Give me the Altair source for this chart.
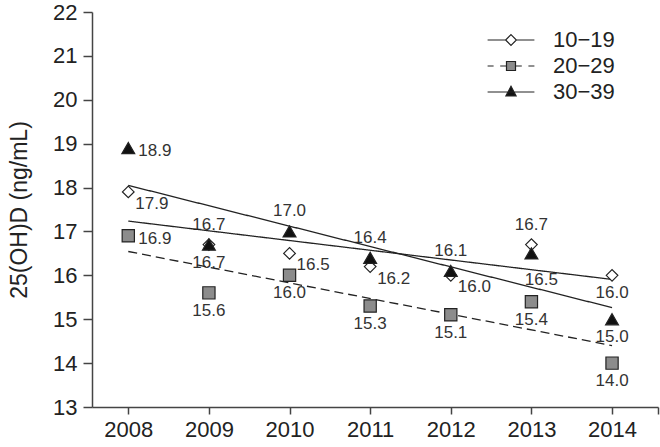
import altair as alt
import pandas as pd

# Survey years and age groups
YEARS = [2008, 2009, 2010, 2011, 2012, 2013, 2014]
GROUPS = ["10\u221219", "20\u221229", "30\u221239"]

# Mean serum 25(OH)D (ng/mL) per age group and year
VAL_10_19 = [17.9, 16.7, 16.5, 16.2, 16.0, 16.7, 16.0]
VAL_20_29 = [16.9, 15.6, 16.0, 15.3, 15.1, 15.4, 14.0]
VAL_30_39 = [18.9, 16.7, 17.0, 16.4, 16.1, 16.5, 15.0]

# Where each value label sits relative to its marker
PLACE_10_19 = ["below-right", "below", "below-right", "below-right", "below-right", "above", "below"]
PLACE_20_29 = ["right", "below", "below", "below", "below", "below", "below"]
PLACE_30_39 = ["right", "above", "above", "above", "above", "lower-right", "below"]

Y_TICKS = list(range(13, 23))

FONT = "Liberation Sans"
INK = "#222222"

rows = []
for grp, vals, places in zip(GROUPS,
                             [VAL_10_19, VAL_20_29, VAL_30_39],
                             [PLACE_10_19, PLACE_20_29, PLACE_30_39]):
    for yr, v, p in zip(YEARS, vals, places):
        rows.append({"year": yr, "group": grp, "value": v, "place": p,
                     "label": f"{v:.1f}"})
df = pd.DataFrame(rows)

x_domain = [2007.55, 2014.57]
x_enc = alt.X("year:Q",
              scale=alt.Scale(domain=x_domain, nice=False, zero=False),
              axis=alt.Axis(values=YEARS + [x_domain[1]],
                            labelExpr="datum.value > 2014.5 ? '' : datum.label",
                            format="d", title=None, grid=False,
                            tickSize=7, labelPadding=5, labelFontSize=22,
                            labelFont=FONT, labelColor=INK,
                            domainColor="#444", tickColor="#444",
                            domainWidth=1.5, tickWidth=1.5, labelFlush=False))
y_enc = alt.Y("value:Q",
              scale=alt.Scale(domain=[13, 22], nice=False, zero=False),
              axis=alt.Axis(values=Y_TICKS, title="25(OH)D (ng/mL)", grid=False,
                            tickSize=9, labelPadding=6, labelFontSize=22,
                            labelFont=FONT, labelColor=INK,
                            titleFont=FONT, titleFontSize=23,
                            titleFontWeight="normal", titleColor=INK,
                            titlePadding=21,
                            domainColor="#444", tickColor="#444",
                            domainWidth=1.5, tickWidth=1.5))

base = alt.Chart(df)

# value labels, one layer per placement
OFFSETS = {
    "above": (0, -20, "center"),
    "below": (0, 18, "center"),
    "right": (10, 3, "left"),
    "below-right": (7, 12, "left"),
    "lower-right": (10, 27, "center"),
}
text_layers = []
for key, (dx, dy, align) in OFFSETS.items():
    text_layers.append(
        base.transform_filter(alt.datum.place == key)
        .mark_text(dx=dx, dy=dy, align=align, baseline="middle",
                   font=FONT, fontSize=17, color="#333333")
        .encode(x=x_enc, y=y_enc, text="label:N")
    )

# linear trend per age group
trend = base.transform_regression(
    "year", "value", groupby=["group"]
).mark_line(color=INK, strokeWidth=1.3).encode(
    x=x_enc, y=y_enc,
    strokeDash=alt.StrokeDash("group:N",
                              scale=alt.Scale(domain=GROUPS,
                                              range=[[1, 0], [9, 5], [1, 0]]),
                              legend=None),
)

fill_colors = ["#ffffff", "#8c8c8c", "#111111"]

points = base.mark_point(filled=True, stroke=INK, strokeWidth=1.2, opacity=1).encode(
    x=x_enc, y=y_enc,
    shape=alt.Shape("group:N",
                    scale=alt.Scale(domain=GROUPS,
                                    range=["diamond", "square", "triangle-up"]),
                    legend=None),
    fill=alt.Fill("group:N",
                  scale=alt.Scale(domain=GROUPS, range=fill_colors),
                  legend=None),
    size=alt.Size("group:N",
                  scale=alt.Scale(domain=GROUPS, range=[135, 165, 190]),
                  legend=None),
)

# legend symbols: line (solid or dashed) with the group's marker on it
LEGEND_PATHS = [
    "M-3.9,0H-0.9M0.9,0H3.9M0,-0.9L0.9,0L0,0.9L-0.9,0Z",
    "M-3.9,0H-2.9M-1.8,0H-0.75M0.75,0H1.8M2.9,0H3.9"
    "M-0.75,-0.75H0.75V0.75H-0.75Z",
    "M-3.9,0H3.9M0,-0.95L0.85,0.65L-0.85,0.65Z",
]
legend_opts = dict(title=None, orient="none", legendX=408, legendY=17,
                   direction="vertical", labelFont=FONT, labelFontSize=22,
                   labelColor=INK, labelOffset=31, symbolSize=144,
                   symbolStrokeWidth=1.2, symbolOpacity=1, rowPadding=4)
legend_layer = base.mark_point(filled=True, strokeWidth=1.2,
                               opacity=0).encode(
    x=x_enc, y=y_enc,
    shape=alt.Shape("group:N",
                    scale=alt.Scale(domain=GROUPS, range=LEGEND_PATHS),
                    legend=alt.Legend(**legend_opts)),
    fill=alt.Fill("group:N",
                  scale=alt.Scale(domain=GROUPS, range=fill_colors),
                  legend=alt.Legend(**legend_opts)),
    stroke=alt.Stroke("group:N",
                      scale=alt.Scale(domain=GROUPS, range=[INK, INK, INK]),
                      legend=alt.Legend(**legend_opts)),
)

chart = alt.layer(
    *text_layers, trend, points, legend_layer
).resolve_scale(
    shape="independent", fill="independent", stroke="independent"
).properties(
    width=566, height=395,
    autosize=alt.AutoSizeParams(type="none"),
    padding={"left": 92, "top": 12, "right": 2, "bottom": 40},
    background="white",
).configure_view(stroke=None)

chart.save("out.html", embed_options={"renderer": "svg", "actions": False})
